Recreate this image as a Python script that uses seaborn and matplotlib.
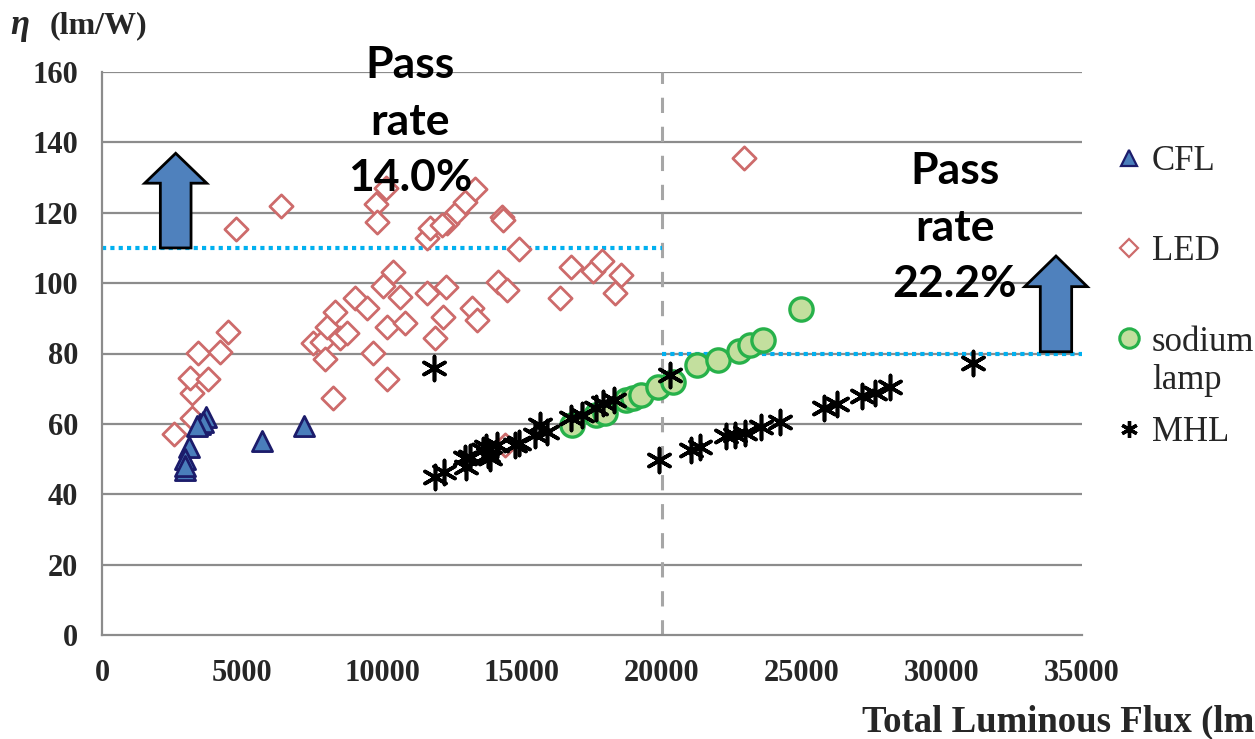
import matplotlib
matplotlib.use("Agg")
import matplotlib.pyplot as plt
import seaborn as sns
import pandas as pd
import numpy as np
from matplotlib.patches import Polygon
from matplotlib.lines import Line2D

# ---------------- data ----------------
cfl_x = [3700, 3500, 3600, 3400, 3100, 2950, 2950, 2950, 5700, 7200]
cfl_y = [62, 60, 60.5, 59.5, 53.5, 50, 47, 48, 55, 59.5]

led_x = [2571, 3202, 3202, 3143, 3440, 3798, 4214, 4489, 4786, 6393, 7536, 7846, 7964,
         8025, 8239, 8321, 8500, 8739, 9036, 9454, 9679, 9786, 9811, 10025, 10143, 10168,
         10179, 10393, 10643, 10821, 11596, 11714, 11596, 11893, 12179, 12286, 12310,
         12150, 12668, 12964, 13321, 13204, 13382, 14275, 14321, 14154, 14454, 14904,
         16357, 16739, 17546, 17868, 18525, 18321, 22929, 14400]
led_y = [57, 61.6, 68.9, 73.1, 80.2, 72.7, 80.5, 86, 115.4, 122, 83, 83.4, 78.4,
         87.6, 67.4, 91.9, 84.4, 85.9, 95.8, 92.9, 80.2, 122.6, 117.4, 99.2, 127, 72.7,
         87.6, 103.2, 96.1, 88.7, 112.8, 115.7, 97.3, 84.4, 90.5, 99, 117.1,
         116.5, 120.3, 123.1, 126.7, 92.9, 89.5, 118.9, 117.9, 100.2, 98, 109.6,
         95.7, 104.7, 103.5, 106.4, 102.3, 97.1, 135.7, 54]

sod_x = [16800, 17650, 17950, 18700, 18950, 19250, 19850, 20400, 21250, 22000,
         22750, 23150, 23600, 24950]
sod_y = [59.7, 62.5, 63.2, 66.8, 67.4, 68.3, 70.4, 72.0, 76.7, 78.1,
         80.7, 82.4, 83.8, 92.6]

mhl_x = [11850, 11900, 12200, 12950, 13000, 13150, 13600, 13800, 13850, 13700, 14100,
         14750, 14900, 15450, 15650, 15900, 16750, 17150, 17650, 17900, 18300, 19900,
         20300, 21050, 21350, 22300, 22600, 22950, 23550, 24200, 25800, 26250, 27150,
         27600, 28150, 31100]
mhl_y = [75.8, 45, 46.4, 50.2, 47.8, 50.7, 52.6, 51.1, 50.2, 53.3, 54,
         54, 54.5, 56.8, 59.7, 57.8, 61.6, 62.5, 64.4, 65.8, 66.8, 49.8,
         73.8, 52.6, 53.3, 56.6, 56.8, 57.3, 59.2, 60.6, 64.4, 65.6, 67.9,
         68.9, 70.4, 77.4]

x_ticks = [0, 5000, 10000, 15000, 20000, 25000, 30000, 35000]
y_ticks = [0, 20, 40, 60, 80, 100, 120, 140, 160]

threshold_low = 110      # lm/W, flux < 20000
threshold_high = 80      # lm/W, flux >= 20000
flux_split = 20000
pass_low = "Pass\nrate\n14.0%"
pass_high = "Pass\nrate\n22.2%"

df = pd.concat([
    pd.DataFrame({"flux": cfl_x, "eff": cfl_y, "type": "CFL"}),
    pd.DataFrame({"flux": led_x, "eff": led_y, "type": "LED"}),
    pd.DataFrame({"flux": sod_x, "eff": sod_y, "type": "sodium lamp"}),
    pd.DataFrame({"flux": mhl_x, "eff": mhl_y, "type": "MHL"}),
], ignore_index=True)

# ---------------- figure ----------------
sns.set_style("white")
serif = ["Liberation Serif", "DejaVu Serif"]
fig = plt.figure(figsize=(12.55, 7.39), dpi=100)
ax = fig.add_axes([102/1255, 1 - 635/739, 980/1255, (635-72)/739])

grid_c = "#8c8c8c"
for yv in y_ticks[1:]:
    ax.axhline(yv, color=grid_c, lw=1.6, zorder=0)

ax.axvline(flux_split, color="#a6a6a6", lw=2.2, ls=(0, (5, 4.5)), zorder=0.5)

ax.plot([0, flux_split], [threshold_low, threshold_low], color="#00b0f0", lw=3,
        ls=(0, (1, 1)), zorder=1)
ax.plot([flux_split, 35000], [threshold_high, threshold_high], color="#00b0f0", lw=3,
        ls=(0, (1, 1)), zorder=1)

styles = {
    "CFL": dict(marker="^", s=210, color="#4a7ebb", edgecolor="#1c1c6b", linewidth=2),
    "LED": dict(marker="D", s=140, color="white", edgecolor="#cd6b6b", linewidth=2),
    "sodium lamp": dict(marker="o", s=280, color="#c3df9e", edgecolor="#27b14a", linewidth=2.4),
    "MHL": dict(marker=(6, 2, 0), s=300, color="black", linewidth=2.6),
}
for t in ["LED", "sodium lamp", "CFL", "MHL"]:
    sub = df[df["type"] == t]
    sns.scatterplot(data=sub, x="flux", y="eff", ax=ax, legend=False, zorder=3, **styles[t])

ax.set_xlim(0, 35000)
ax.set_ylim(0, 160)
ax.set_xticks(x_ticks)
ax.set_yticks(y_ticks)
ax.set_xticklabels([str(v) for v in x_ticks], fontfamily=serif, fontweight="bold", fontsize=22)
ax.set_yticklabels([str(v) for v in y_ticks], fontfamily=serif, fontweight="bold", fontsize=22)
ax.tick_params(axis="x", length=0, pad=17)
ax.tick_params(axis="y", length=0, pad=17)
ax.set_xlabel("")
ax.set_ylabel("")
for sp in ["top", "right"]:
    ax.spines[sp].set_visible(False)
ax.spines["left"].set_color(grid_c)
ax.spines["left"].set_linewidth(1.6)
ax.spines["bottom"].set_color(grid_c)
ax.spines["bottom"].set_linewidth(1.6)

# arrows
def up_arrow(xc, base, head_base, tip, shaft_hw, head_hw):
    pts = [(xc - shaft_hw, base), (xc - shaft_hw, head_base), (xc - head_hw, head_base),
           (xc, tip), (xc + head_hw, head_base), (xc + shaft_hw, head_base),
           (xc + shaft_hw, base)]
    ax.add_patch(Polygon(pts, closed=True, facecolor="#4f81bd", edgecolor="black",
                         lw=2, zorder=4, clip_on=False))

up_arrow(2632, threshold_low, 128.4, 136.9, 548, 1107)
up_arrow(34071, threshold_high + 0.5, 99, 107.7, 560, 1118)

ax.text(11000, 145.8, pass_low, ha="center", va="center", fontsize=32,
        fontfamily="Lato", fontweight="bold", linespacing=1.5, zorder=5, color="black")
ax.text(30464, 115.7, pass_high, ha="center", va="center", fontsize=32,
        fontfamily="Lato", fontweight="bold", linespacing=1.5, zorder=5, color="black")

# axis titles
fig.text(10/1255, 1 - 26/739, "η", fontsize=25, va="center", ha="left",
         fontfamily=serif, fontweight="bold", fontstyle="italic")
fig.text(50/1255, 1 - 26/739, "(lm/W)", fontsize=23, va="center", ha="left",
         fontfamily=serif, fontweight="bold")
fig.text(862/1255, 1 - 722/739, "Total Luminous Flux (lm)", fontsize=26.5, va="center",
         ha="left", fontfamily=serif, fontweight="bold")

# legend
handles = [
    Line2D([], [], ls="none", marker="^", markersize=12, markerfacecolor="#4a7ebb",
           markeredgecolor="#1c1c6b", markeredgewidth=1.6),
    Line2D([], [], ls="none", marker="D", markersize=9, markerfacecolor="white",
           markeredgecolor="#cd6b6b", markeredgewidth=1.6),
    Line2D([], [], ls="none", marker="o", markersize=14, markerfacecolor="#c3df9e",
           markeredgecolor="#27b14a", markeredgewidth=2.2),
    Line2D([], [], ls="none", marker=(6, 2, 0), markersize=12, color="black",
           markeredgewidth=2.4),
]
labels = ["CFL", "LED", "sodium", "MHL"]
leg = fig.legend(handles, labels, loc="upper left", bbox_to_anchor=(1112/1255, 1 - 145/739),
                 frameon=False, prop={"family": serif, "size": 25}, labelspacing=1.65,
                 handletextpad=0.15, handlelength=1.0, borderaxespad=0, borderpad=0)

# second line of the "sodium lamp" legend label
fig.canvas.draw()
bb = leg.get_texts()[2].get_window_extent()
fig.text(bb.x0 / fig.bbox.width, (bb.y0 + bb.y1) / 2 / fig.bbox.height - 38/739, "lamp",
         fontsize=25, fontfamily=serif, va="center", ha="left")

fig.savefig("out.png", dpi=100)
